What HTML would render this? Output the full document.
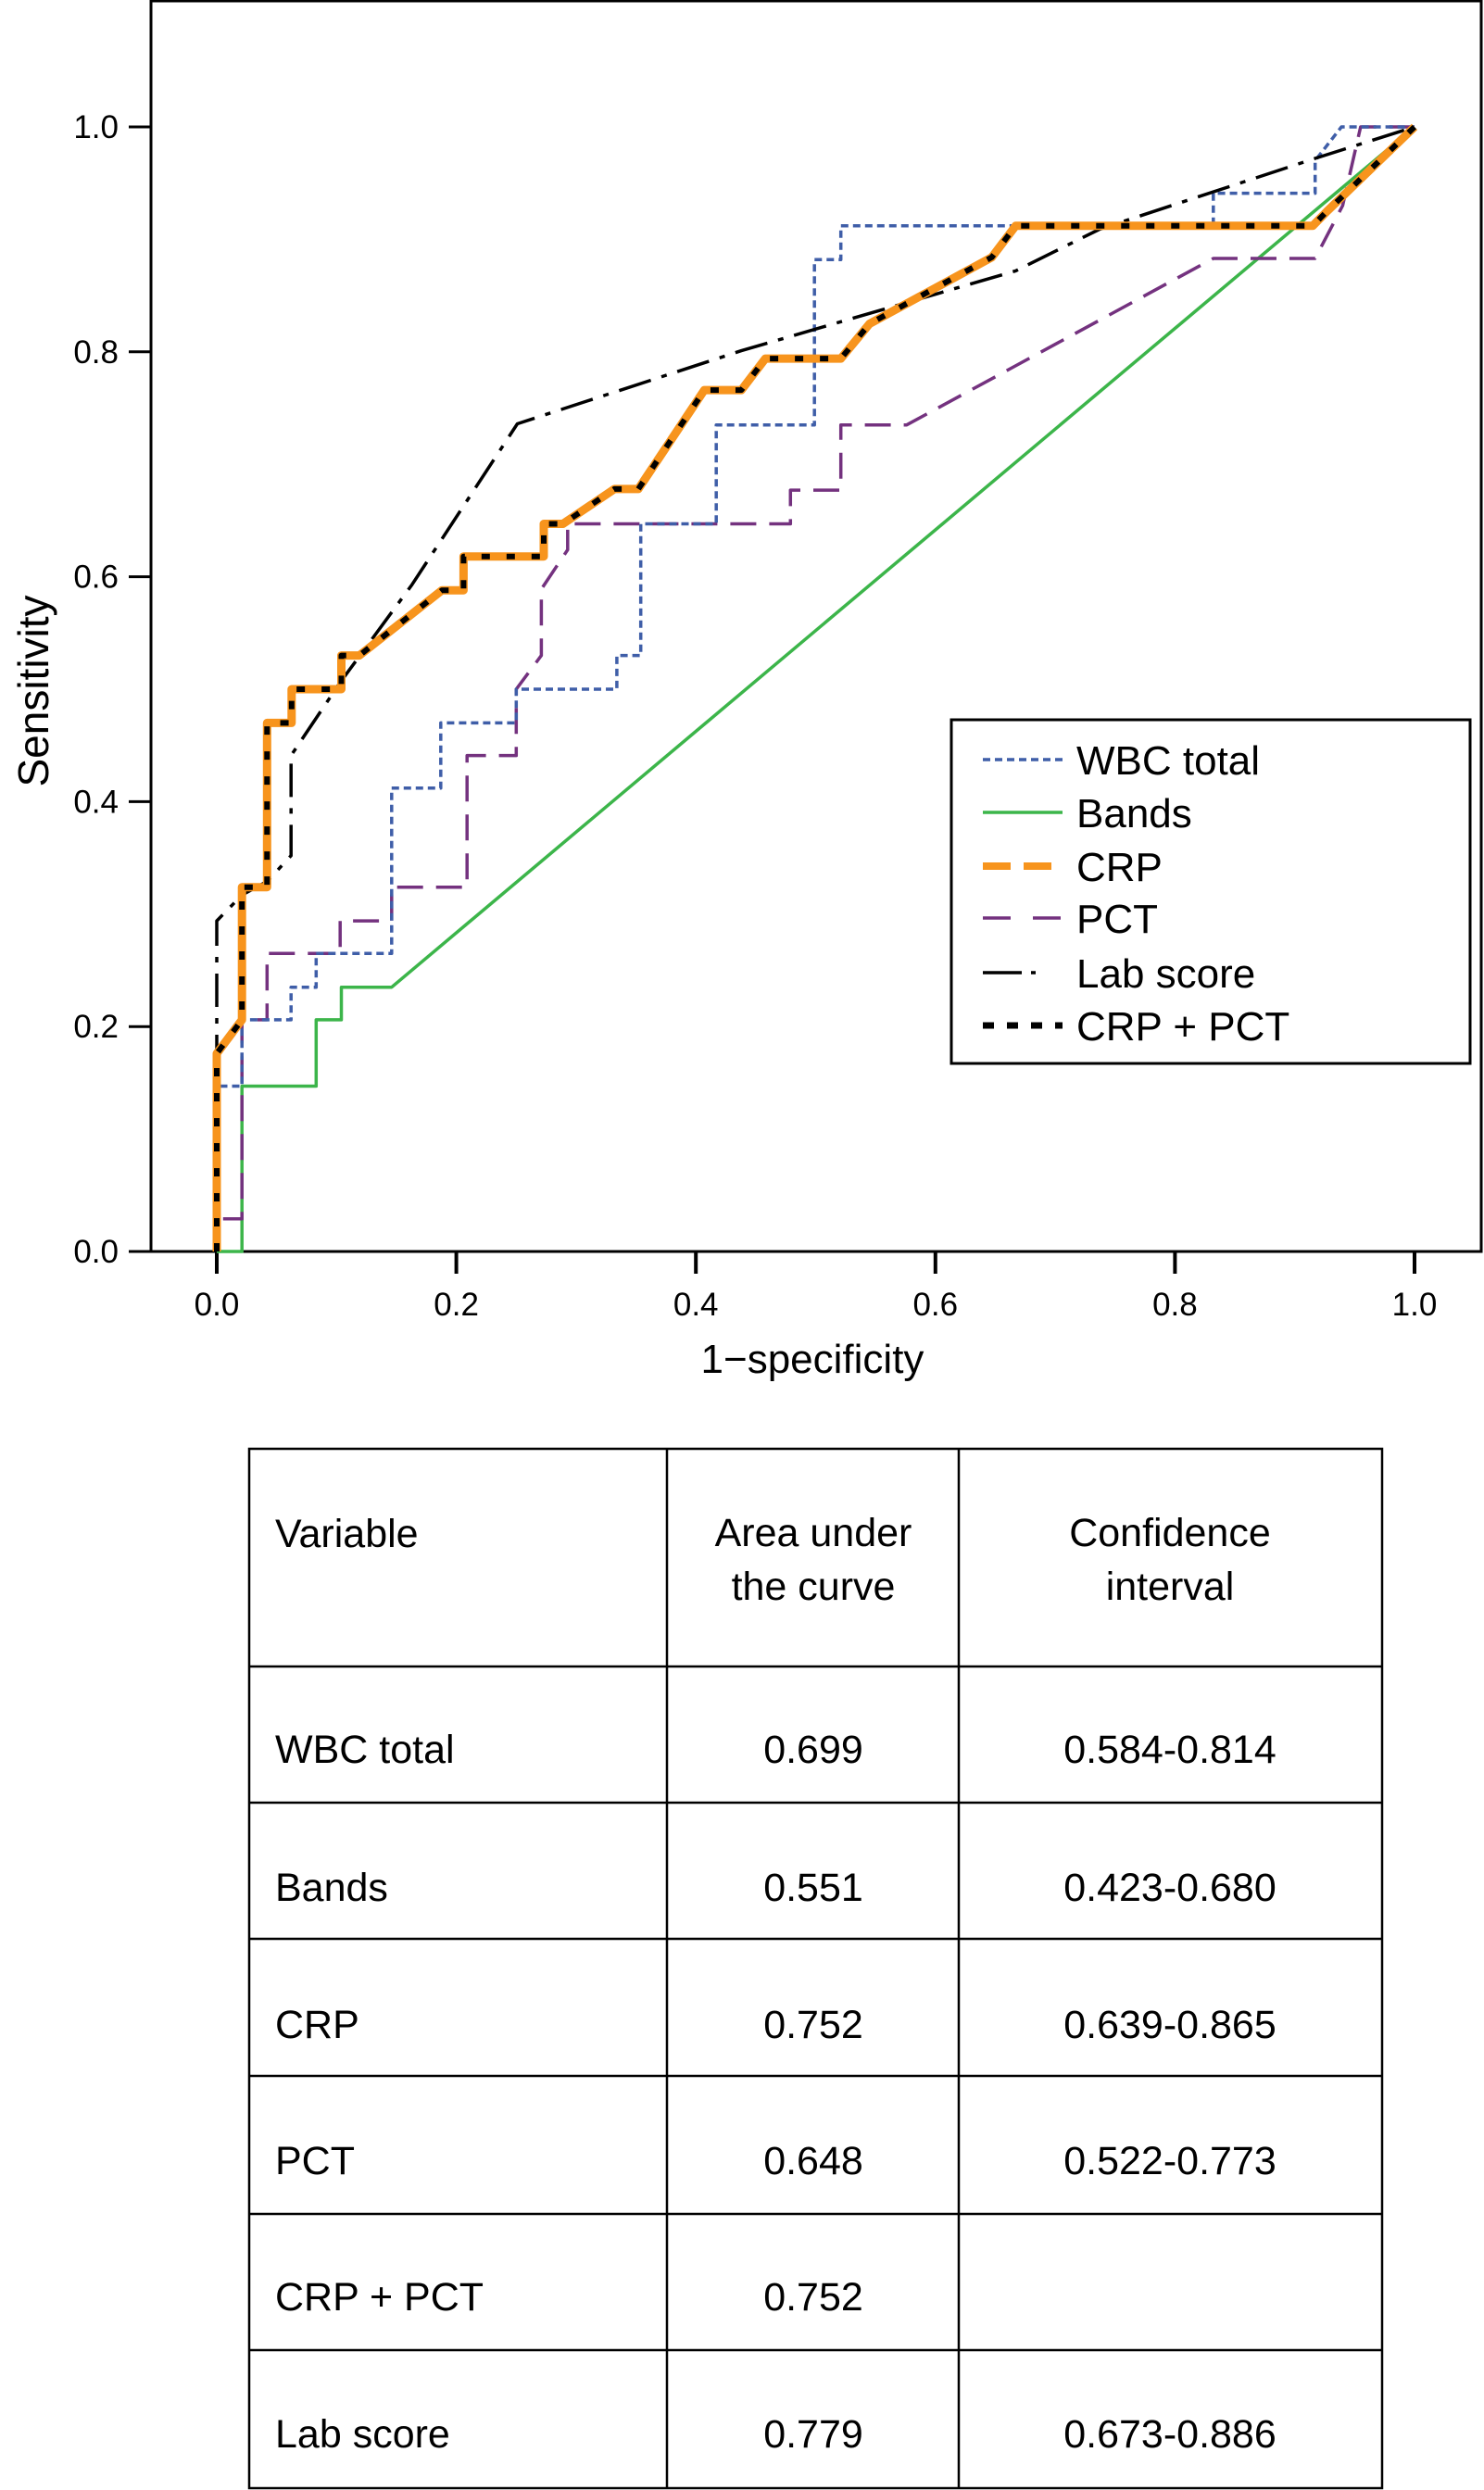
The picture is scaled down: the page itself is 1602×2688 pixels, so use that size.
<!DOCTYPE html>
<html><head><meta charset="utf-8"><style>
html,body{margin:0;padding:0;background:#fff}
svg{display:block}
text{font-family:"Liberation Sans",sans-serif;fill:#000}
</style></head><body>
<svg id="chart" width="1602" height="2688" viewBox="0 0 1602 2688" xmlns="http://www.w3.org/2000/svg">
<rect x="163" y="1" width="1436" height="1350" fill="none" stroke="#000" stroke-width="3"/>
<g id="axes"></g>
<g id="series"></g>
<text x="52" y="746" font-size="46" text-anchor="middle" transform="rotate(-90 52 746)" style="font-stretch:condensed">Sensitivity</text>
<text x="877" y="1482" font-size="44" text-anchor="middle">1−specificity</text>
<g>
<rect x="1027" y="777" width="560" height="371" fill="#fff" stroke="#000" stroke-width="3"/>
<g id="legend"></g>
</g>
<g>
<rect x="269" y="1564" width="1223" height="1122" fill="none" stroke="#000" stroke-width="2.5"/>
<line x1="720" y1="1564" x2="720" y2="2686" stroke="#000" stroke-width="2.5"/>
<line x1="1035" y1="1564" x2="1035" y2="2686" stroke="#000" stroke-width="2.5"/>
<line x1="269" y1="1799" x2="1492" y2="1799" stroke="#000" stroke-width="2.5"/>
<line x1="269" y1="1946" x2="1492" y2="1946" stroke="#000" stroke-width="2.5"/>
<line x1="269" y1="2093" x2="1492" y2="2093" stroke="#000" stroke-width="2.5"/>
<line x1="269" y1="2241" x2="1492" y2="2241" stroke="#000" stroke-width="2.5"/>
<line x1="269" y1="2390" x2="1492" y2="2390" stroke="#000" stroke-width="2.5"/>
<line x1="269" y1="2537" x2="1492" y2="2537" stroke="#000" stroke-width="2.5"/>
<text x="297" y="1670" font-size="43">Variable</text>
<text x="878" y="1669" font-size="43" text-anchor="middle">Area under</text>
<text x="878" y="1727" font-size="43" text-anchor="middle">the curve</text>
<text x="1263" y="1669" font-size="43" text-anchor="middle">Confidence</text>
<text x="1263" y="1727" font-size="43" text-anchor="middle">interval</text>
<g id="rows"></g>
</g>
</svg>
<script>
const xTicks=["0.0","0.2","0.4","0.6","0.8","1.0"];
const yTicks=["0.0","0.2","0.4","0.6","0.8","1.0"];
const wbcX=[0,0,0.021,0.021,0.062,0.062,0.083,0.083,0.146,0.146,0.187,0.187,0.25,0.25,0.334,0.334,0.354,0.354,0.417,0.417,0.499,0.499,0.521,0.521,0.832,0.832,0.917,0.917,0.939,1];
const wbcY=[0,0.147,0.147,0.206,0.206,0.235,0.235,0.265,0.265,0.412,0.412,0.47,0.47,0.5,0.5,0.53,0.53,0.647,0.647,0.735,0.735,0.882,0.882,0.912,0.912,0.941,0.941,0.97,1,1];
const bandsX=[0,0.021,0.021,0.083,0.083,0.104,0.104,0.146,1];
const bandsY=[0,0,0.147,0.147,0.206,0.206,0.235,0.235,1];
const crpX=[0,0,0.021,0.021,0.042,0.042,0.0625,0.0625,0.104,0.104,0.119,0.188,0.206,0.206,0.273,0.273,0.289,0.332,0.352,0.407,0.438,0.458,0.521,0.545,0.647,0.667,0.915,0.927,1];
const crpY=[0,0.176,0.206,0.324,0.324,0.47,0.47,0.5,0.5,0.53,0.53,0.588,0.588,0.618,0.618,0.647,0.647,0.678,0.678,0.766,0.766,0.794,0.794,0.825,0.884,0.912,0.912,0.925,1];
const pctX=[0,0,0.021,0.021,0.042,0.042,0.103,0.103,0.146,0.146,0.209,0.209,0.25,0.25,0.271,0.271,0.293,0.293,0.479,0.479,0.521,0.521,0.576,0.832,0.917,0.94,0.955,1];
const pctY=[0,0.029,0.029,0.206,0.206,0.265,0.265,0.294,0.294,0.324,0.324,0.441,0.441,0.5,0.53,0.589,0.624,0.647,0.647,0.677,0.677,0.735,0.735,0.883,0.883,0.93,1,1];
const labX=[0,0,0.021,0.042,0.062,0.062,0.103,0.163,0.251,0.438,0.667,0.737,0.917,1];
const labY=[0,0.294,0.317,0.329,0.352,0.441,0.506,0.593,0.736,0.801,0.872,0.909,0.972,1];
const legendLabels=["WBC total","Bands","CRP","PCT","Lab score","CRP + PCT"];
const tableVars=["WBC total","Bands","CRP","PCT","CRP + PCT","Lab score"];
const tableAuc=["0.699","0.551","0.752","0.648","0.752","0.779"];
const tableCi=["0.584-0.814","0.423-0.680","0.639-0.865","0.522-0.773","","0.673-0.886"];

const NS="http://www.w3.org/2000/svg";
const X0=234,X1=1527,Y0=1351,Y1=137;
function sx(v){return X0+(X1-X0)*v;}
function sy(v){return Y0-(Y0-Y1)*v;}
function mk(tag,attrs,parent){const e=document.createElementNS(NS,tag);for(const k in attrs)e.setAttribute(k,attrs[k]);parent.appendChild(e);return e;}
const axes=document.getElementById('axes');
xTicks.forEach(t=>{const v=parseFloat(t);
 const l=mk('line',{x1:sx(v),x2:sx(v),y1:1351,y2:1375,stroke:'#000','stroke-width':4},axes);
 
 
 const tx=mk('text',{x:sx(v),y:1420,'font-size':35,'text-anchor':'middle'},axes);tx.textContent=t;
 
 });
yTicks.forEach(t=>{const v=parseFloat(t);
 const l=mk('line',{x1:139,x2:163,y1:sy(v),y2:sy(v),stroke:'#000','stroke-width':3},axes);
 
 
 const tx=mk('text',{x:128,y:sy(v)+12,'font-size':35,'text-anchor':'end'},axes);tx.textContent=t;
 
 });
const styles=[
 {xs:wbcX,ys:wbcY,stroke:'#3f5ea8',w:3.5,dash:'8 5',name:'wbc-total-curve'},
 {xs:bandsX,ys:bandsY,stroke:'#3cb54a',w:3.5,dash:'',name:'bands-curve'},
 {xs:crpX,ys:crpY,stroke:'#f7941d',w:9,dash:'',name:'crp-curve'},
 {xs:pctX,ys:pctY,stroke:'#74327f',w:3.5,dash:'28 14',name:'pct-curve'},
 {xs:labX,ys:labY,stroke:'#000',w:3.5,dash:'36 12 6 12',name:'lab-score-curve'},
 {xs:crpX,ys:crpY,stroke:'#000',w:6,dash:'9 18',name:'crp-pct-curve'}];
const series=document.getElementById('series');
const drawOrder=[1,3,0,4,2,5];
drawOrder.forEach(i=>{const s=styles[i];
 const pts=s.xs.map((x,j)=>sx(x).toFixed(1)+','+sy(s.ys[j]).toFixed(1)).join(' ');
 const p=mk('polyline',{points:pts,fill:'none',stroke:s.stroke,'stroke-width':s.w,'stroke-linejoin':'round'},series);
 if(s.dash)p.setAttribute('stroke-dasharray',s.dash);
 
 });
const lg=document.getElementById('legend');
const legY=[821,878,936,992,1051,1108];
legendLabels.forEach((lab,i)=>{const s=styles[i];
 const g=mk('g',{},lg);
 
 
 const l=mk('line',{x1:1061,x2:1147,y1:legY[i]-1,y2:legY[i]-1,stroke:s.stroke,'stroke-width':i==2?8:(i==5?7:3.5)},g);
 if(i==0)l.setAttribute('stroke-dasharray','8 5');
 if(i==2)l.setAttribute('stroke-dasharray','30 14');
 if(i==3)l.setAttribute('stroke-dasharray','30 24');
 if(i==4)l.setAttribute('stroke-dasharray','42 10 5 40');
 if(i==5)l.setAttribute('stroke-dasharray','12 14');
 const t=mk('text',{x:1162,y:legY[i]+15,'font-size':44},g);t.textContent=lab;});
const rows=document.getElementById('rows');
const rowY=[1888,2037,2185,2332,2479,2627];
tableVars.forEach((v,i)=>{const g=mk('g',{},rows);
 
 
 const a=mk('text',{x:297,y:rowY[i]+15,'font-size':43},g);a.textContent=v;
 const b=mk('text',{x:878,y:rowY[i]+15,'font-size':43,'text-anchor':'middle'},g);b.textContent=tableAuc[i];
 const c=mk('text',{x:1263,y:rowY[i]+15,'font-size':43,'text-anchor':'middle'},g);c.textContent=tableCi[i];});
</script>
</body></html>
